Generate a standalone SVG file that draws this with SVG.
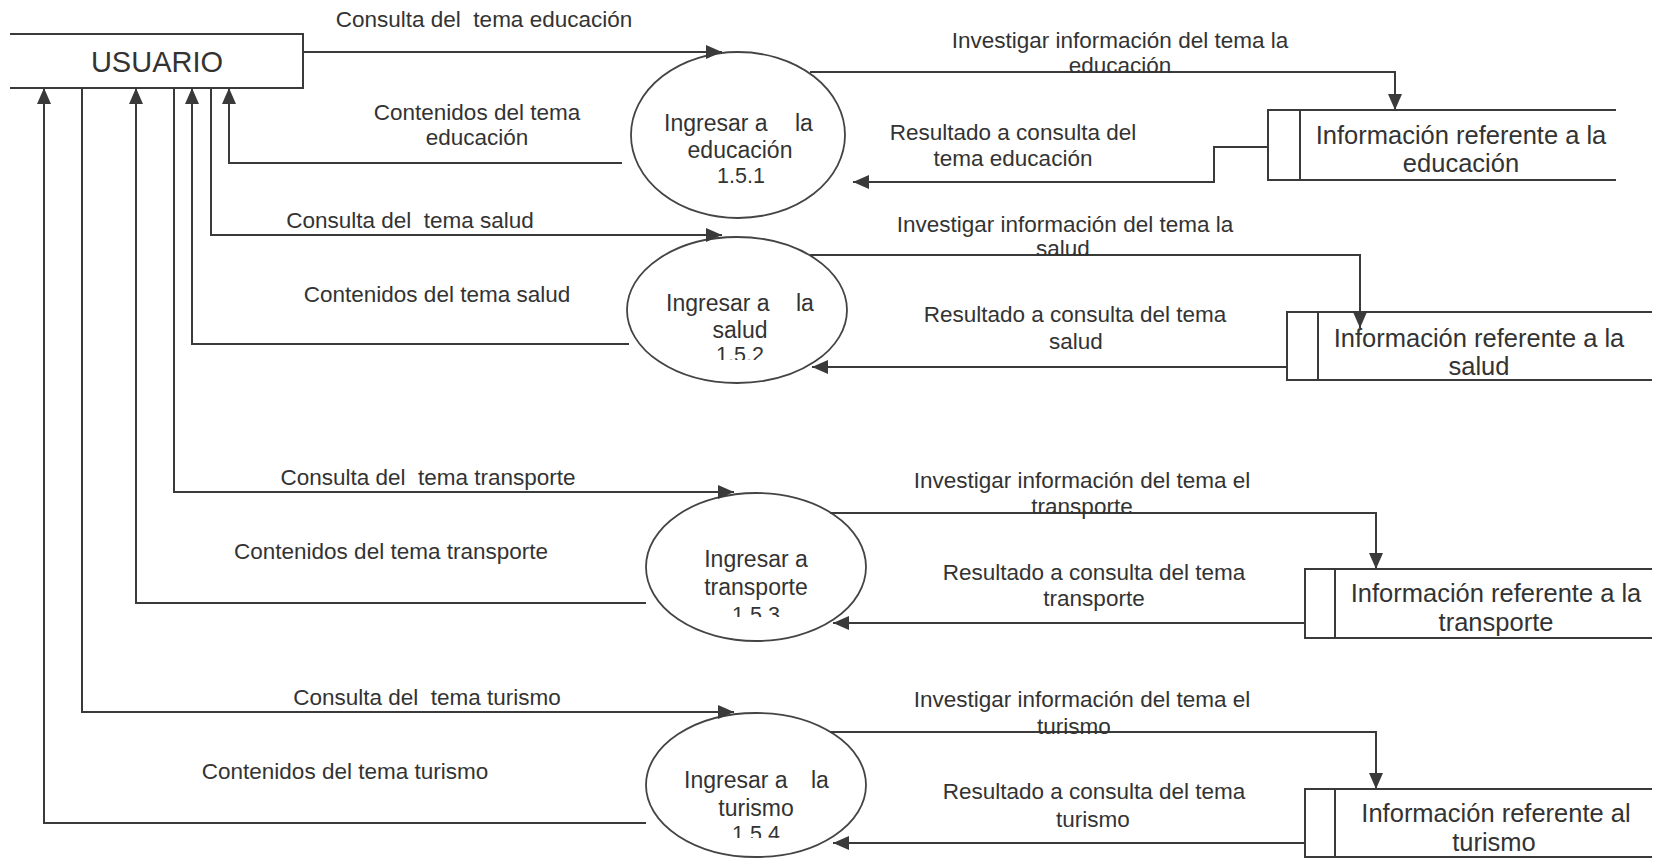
<svg xmlns="http://www.w3.org/2000/svg" width="1654" height="859" viewBox="0 0 1654 859">
  <style>
    text { font-family: "Liberation Sans", Arial, sans-serif; fill: #333; }
    .ln { fill: none; stroke: #3a3a3a; stroke-width: 2; }
    .ln-a { fill: none; stroke: #3a3a3a; stroke-width: 2; marker-end: url(#arrow); }
    .proc { fill: #fff; stroke: #444; stroke-width: 1.8; }
    .store { fill: none; stroke: #3a3a3a; stroke-width: 2; }
    .lb { font-size: 22.5px; text-anchor: middle; white-space: pre; }
    .pt { font-size: 23px; }
    .ptc { font-size: 23px; text-anchor: middle; }
    .num { font-size: 21.5px; text-anchor: middle; }
    .st { font-size: 25.5px; text-anchor: middle; }
    .ent { font-size: 29px; text-anchor: middle; }
  </style>
  <defs>
    <marker id="arrow" markerUnits="userSpaceOnUse" markerWidth="16" markerHeight="14" refX="16" refY="7" orient="auto">
      <path d="M0,0 L16,7 L0,14 z" fill="#3a3a3a"/>
    </marker>
    <!-- the process numbers below the first one are cut off at the bottom -->
    <clipPath id="cut2"><rect x="680" y="330" width="120" height="30"/></clipPath>
    <clipPath id="cut3"><rect x="700" y="590" width="120" height="27"/></clipPath>
    <clipPath id="cut4"><rect x="700" y="810" width="120" height="28"/></clipPath>
  </defs>

  <rect width="1654" height="859" fill="#fff"/>

  <!-- external entity -->
  <g id="usuario">
    <path class="store" d="M10,34 H303 V88 H10"/>
    <text class="ent" x="157" y="72">USUARIO</text>
  </g>

  <!-- processes -->
  <g id="p151">
    <ellipse class="proc" cx="738" cy="135" rx="107" ry="83"/>
    <text class="pt" x="664" y="131">Ingresar a  <tspan x="795">la</tspan></text>
    <text class="ptc" x="740" y="158">educación</text>
    <text class="num" x="741" y="183">1.5.1</text>
  </g>
  <g id="p152">
    <ellipse class="proc" cx="737" cy="310" rx="110" ry="73"/>
    <text class="pt" x="666" y="311">Ingresar a  <tspan x="796">la</tspan></text>
    <text class="ptc" x="740" y="338">salud</text>
    <text class="num" x="740" y="362" clip-path="url(#cut2)">1.5.2</text>
  </g>
  <g id="p153">
    <ellipse class="proc" cx="756" cy="567" rx="110" ry="74"/>
    <text class="ptc" x="756" y="567">Ingresar a</text>
    <text class="ptc" x="756" y="595">transporte</text>
    <text class="num" x="756" y="622" clip-path="url(#cut3)">1.5.3</text>
  </g>
  <g id="p154">
    <ellipse class="proc" cx="756" cy="785" rx="110" ry="72"/>
    <text class="pt" x="684" y="788">Ingresar a  <tspan x="811">la</tspan></text>
    <text class="ptc" x="756" y="816">turismo</text>
    <text class="num" x="756" y="841" clip-path="url(#cut4)">1.5.4</text>
  </g>

  <!-- data stores -->
  <g id="s-educacion">
    <path class="store" d="M1616,110 H1268 V180 H1616 M1300,110 V180"/>
    <text class="st" x="1461" y="144">Información referente a la</text>
    <text class="st" x="1461" y="172">educación</text>
  </g>
  <g id="s-salud">
    <path class="store" d="M1652,312 H1287 V380 H1652 M1318,312 V380"/>
    <text class="st" x="1479" y="347">Información referente a la</text>
    <text class="st" x="1479" y="375">salud</text>
  </g>
  <g id="s-transporte">
    <path class="store" d="M1652,569 H1305 V638 H1652 M1335,569 V638"/>
    <text class="st" x="1496" y="602">Información referente a la</text>
    <text class="st" x="1496" y="631">transporte</text>
  </g>
  <g id="s-turismo">
    <path class="store" d="M1652,789 H1305 V857 H1652 M1335,789 V857"/>
    <text class="st" x="1496" y="822">Información referente al</text>
    <text class="st" x="1494" y="851">turismo</text>
  </g>

  <!-- data flows -->
  <g id="flows">
    <!-- educación -->
    <path class="ln-a" d="M303,52 H722"/>
    <path class="ln-a" d="M622,163 H229 V88"/>
    <path class="ln-a" d="M810,72 H1395 V110"/>
    <path class="ln-a" d="M1268,147 H1214 V182 H853"/>
    <text class="lb" x="484" y="27">Consulta del  tema educación</text>
    <text class="lb" x="477" y="120">Contenidos del tema</text>
    <text class="lb" x="477" y="145">educación</text>
    <text class="lb" x="1120" y="48">Investigar información del tema la</text>
    <text class="lb" x="1120" y="73">educación</text>
    <text class="lb" x="1013" y="140">Resultado a consulta del</text>
    <text class="lb" x="1013" y="166">tema educación</text>

    <!-- salud -->
    <path class="ln-a" d="M211,88 V235 H722"/>
    <path class="ln-a" d="M629,344 H192 V88"/>
    <path class="ln-a" d="M810,255 H1360 V328"/>
    <path class="ln-a" d="M1287,367 H812"/>
    <text class="lb" x="410" y="228">Consulta del  tema salud</text>
    <text class="lb" x="437" y="302">Contenidos del tema salud</text>
    <text class="lb" x="1065" y="232">Investigar información del tema la</text>
    <text class="lb" x="1063" y="256">salud</text>
    <text class="lb" x="1075" y="322">Resultado a consulta del tema</text>
    <text class="lb" x="1076" y="349">salud</text>

    <!-- transporte -->
    <path class="ln-a" d="M174,88 V492 H734"/>
    <path class="ln-a" d="M646,603 H136 V88"/>
    <path class="ln-a" d="M830,513 H1376 V569"/>
    <path class="ln-a" d="M1305,623 H833"/>
    <text class="lb" x="428" y="485">Consulta del  tema transporte</text>
    <text class="lb" x="391" y="559">Contenidos del tema transporte</text>
    <text class="lb" x="1082" y="488">Investigar información del tema el</text>
    <text class="lb" x="1082" y="514">transporte</text>
    <text class="lb" x="1094" y="580">Resultado a consulta del tema</text>
    <text class="lb" x="1094" y="606">transporte</text>

    <!-- turismo -->
    <path class="ln-a" d="M82,88 V712 H734"/>
    <path class="ln-a" d="M646,823 H44 V88"/>
    <path class="ln-a" d="M830,732 H1376 V789"/>
    <path class="ln-a" d="M1305,843 H833"/>
    <text class="lb" x="427" y="705">Consulta del  tema turismo</text>
    <text class="lb" x="345" y="779">Contenidos del tema turismo</text>
    <text class="lb" x="1082" y="707">Investigar información del tema el</text>
    <text class="lb" x="1074" y="734">turismo</text>
    <text class="lb" x="1094" y="799">Resultado a consulta del tema</text>
    <text class="lb" x="1093" y="827">turismo</text>
  </g>
</svg>
